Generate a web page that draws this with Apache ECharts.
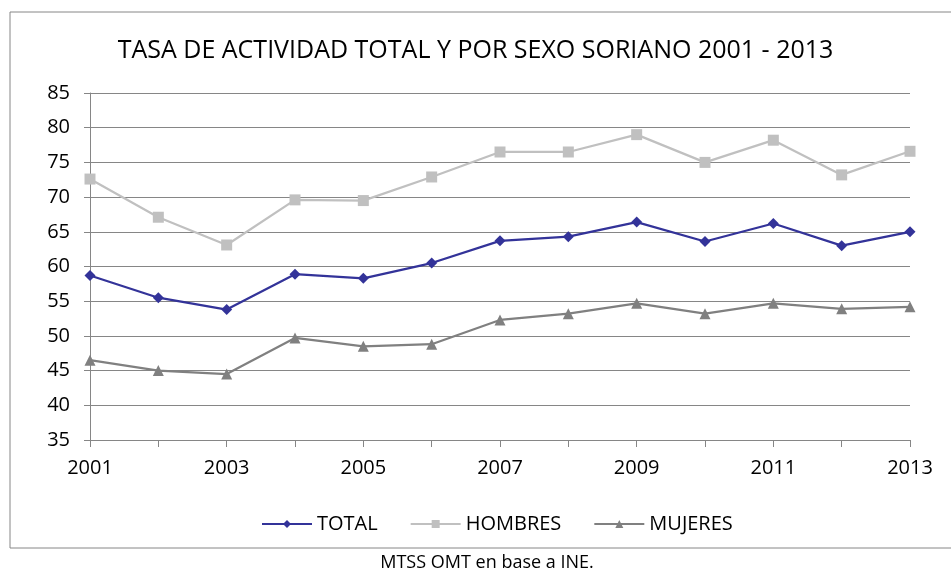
<!DOCTYPE html>
<html>

<head>
    <meta charset="utf-8">
    <script src="https://cdn.jsdelivr.net/npm/echarts@6/dist/echarts.min.js"></script>
    <style>
        html, body, #chart {
            width: 100%;
            height: 100%;
            margin: 0px;
            background: #fff;
        }
    </style>
</head>

<body>
    <div id="chart"></div>
    <script>
        // datos
        var years = ['2001', '2002', '2003', '2004', '2005', '2006', '2007', '2008', '2009', '2010', '2011', '2012', '2013'];
        var total = [58.7, 55.5, 53.8, 58.9, 58.3, 60.5, 63.7, 64.3, 66.4, 63.6, 66.2, 63.0, 65.0];
        var hombres = [72.6, 67.1, 63.1, 69.6, 69.5, 72.9, 76.5, 76.5, 79.0, 75.0, 78.2, 73.2, 76.6];
        var mujeres = [46.5, 45.0, 44.5, 49.7, 48.5, 48.8, 52.3, 53.2, 54.7, 53.2, 54.7, 53.9, 54.2];

        var font = 'Open Sans';
        var gris = '#868686';

        var myChart = echarts.init(document.getElementById('chart'));
        var option = {
            animation: false,
            title: {
                text: 'TASA DE ACTIVIDAD TOTAL Y POR SEXO SORIANO 2001 - 2013',
                left: 'center',
                top: 33,
                textStyle: {
                    fontFamily: font,
                    fontSize: 25,
                    fontWeight: 'normal',
                    color: '#000'
                }
            },
            grid: {
                left: 90,
                right: 41,
                top: 93,
                bottom: 131
            },
            legend: {
                top: 509,
                left: 256,
                itemWidth: 50,
                itemHeight: 10,
                itemGap: 32,
                textStyle: {
                    fontFamily: font,
                    fontSize: 20,
                    color: '#000'
                },
                data: ['TOTAL', 'HOMBRES', 'MUJERES']
            },
            xAxis: {
                type: 'category',
                data: years,
                boundaryGap: false,
                axisLine: { lineStyle: { color: gris } },
                axisTick: { length: 7, interval: 0, lineStyle: { color: gris } },
                axisLabel: {
                    interval: 1,
                    margin: 18,
                    fontFamily: font,
                    fontSize: 20,
                    color: '#000'
                }
            },
            yAxis: {
                type: 'value',
                min: 35,
                max: 85,
                interval: 5,
                axisLine: { show: true, lineStyle: { color: gris } },
                axisTick: { show: true, length: 6, lineStyle: { color: gris } },
                splitLine: { lineStyle: { color: gris } },
                axisLabel: {
                    margin: 20,
                    fontFamily: font,
                    fontSize: 20,
                    color: '#000'
                }
            },
            series: [
                {
                    name: 'TOTAL',
                    type: 'line',
                    data: total,
                    symbol: 'diamond',
                    symbolSize: 11,
                    lineStyle: { width: 2.25, color: '#333399' },
                    itemStyle: { color: '#333399' }
                },
                {
                    name: 'HOMBRES',
                    type: 'line',
                    data: hombres,
                    symbol: 'rect',
                    symbolSize: 11,
                    lineStyle: { width: 2.25, color: '#c0c0c0' },
                    itemStyle: { color: '#c0c0c0' }
                },
                {
                    name: 'MUJERES',
                    type: 'line',
                    data: mujeres,
                    symbol: 'triangle',
                    symbolSize: 11,
                    lineStyle: { width: 2.25, color: '#808080' },
                    itemStyle: { color: '#808080' }
                }
            ],
            graphic: [
                {
                    type: 'rect',
                    shape: { x: 10, y: 12, width: 960, height: 536 },
                    style: { fill: null, stroke: gris, lineWidth: 1 },
                    silent: true
                },
                {
                    type: 'text',
                    x: 487,
                    y: 563,
                    style: {
                        text: 'MTSS OMT en base a INE.',
                        fontFamily: font,
                        fontSize: 18,
                        fill: '#000',
                        align: 'center',
                        verticalAlign: 'middle'
                    }
                }
            ]
        };
        myChart.setOption(option);
    </script>
</body>

</html>
